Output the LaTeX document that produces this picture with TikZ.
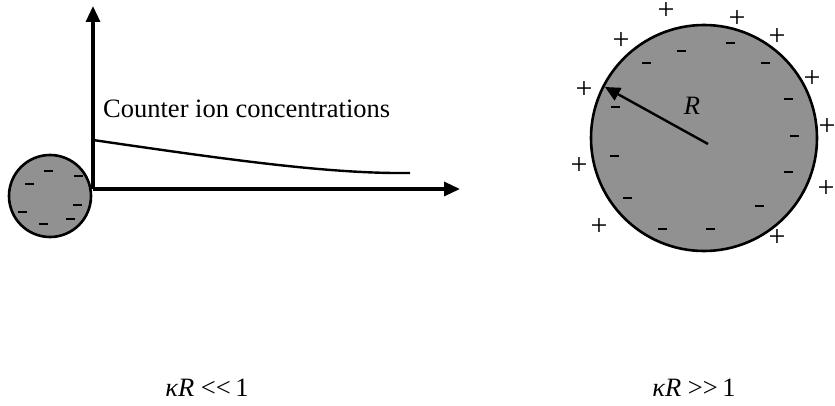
\documentclass[tikz,border=0pt]{standalone}
\usepackage{fontspec}
\setmainfont{Liberation Serif}
\usetikzlibrary{arrows.meta}
\begin{document}
\begin{tikzpicture}[x=1pt,y=-1pt,
  ball/.style={circle,draw=black,line width=2.6pt,fill=black!43,inner sep=0pt},
  negsign/.style={rectangle,fill=black,minimum width=9pt,minimum height=2.4pt,inner sep=0pt},
  possign/.style={inner sep=0pt,font=\fontsize{30}{30}\selectfont,text height=14pt,text depth=0pt},
  axisline/.style={line width=3.2pt,-{Triangle[length=16pt,width=14pt]}},
  lbl/.style={inner sep=0pt,font=\fontsize{26.5}{30}\selectfont}]
\useasboundingbox (0,0) rectangle (835,406);
% small sphere
\node[ball,minimum size=82pt] (s) at (50,196) {};
\foreach \x/\y [count=\i] in {48/171,29/184,78/176,77/205,70/219,22/212,43/224}
  \node[negsign] (sm\i) at (\x,\y) {};
% axes
\coordinate (o) at (93,189);
\coordinate (ytop) at (93,6);
\coordinate (xend) at (460,189);
\draw[axisline] (o) -- (ytop);
\draw[axisline] (o) -- (xend);
\coordinate (c0) at (93,140);
\coordinate (c1) at (410,173);
\draw[line width=2.4pt] (c0) .. controls (230,160) and (330,174) .. (c1);
\node[lbl,anchor=base west] (cic) at (103,118) {Counter ion concentrations};
% big sphere
\node[ball,minimum size=226pt] (b) at (704,138) {};
\foreach \x/\y [count=\i] in {681/51,730/43,646/63,765/63,788/99,615/107,794/136,614/156,788/172,627/198,759/206,662/229,710/229}
  \node[negsign] (bm\i) at (\x,\y) {};
\foreach \x/\y [count=\i] in {666/13,737/21,621/43,777/39,812/81,584/92,827/129,579/168,826/190,599/229,777/239}
  \node[possign] (bp\i) at (\x,\y) {+};
\coordinate (bc) at (708,144);
\coordinate (bt) at (605,87);
\draw[line width=2.4pt,-{Triangle[length=15pt,width=14pt]}] (bc) -- (bt);
\node[lbl] (R) at (692,106) {\itshape R};
% labels
\node[lbl] (l1) at (207,388) {{\itshape κR} <\mbox{}<\,1};
\node[lbl] (l2) at (694,388) {{\itshape κR} >\mbox{}>\,1};
\end{tikzpicture}
\end{document}
